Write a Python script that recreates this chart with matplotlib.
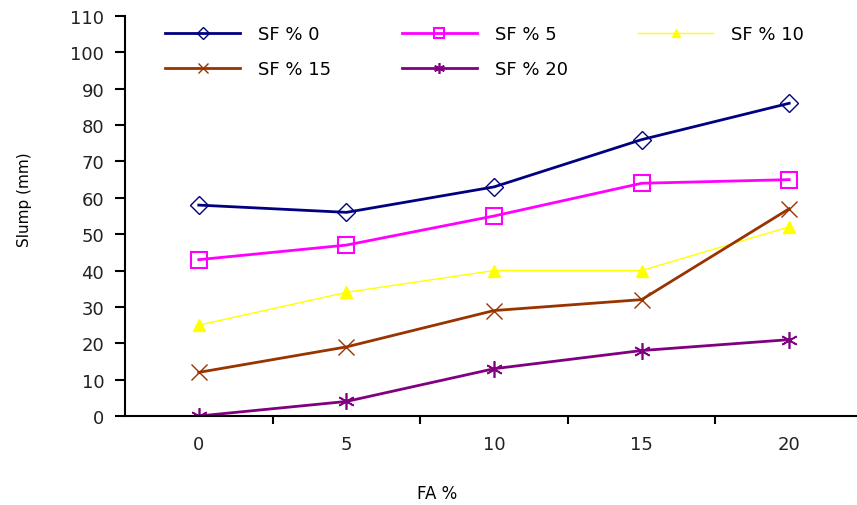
import matplotlib
matplotlib.use('Agg')
import matplotlib.pyplot as plt

plt.rcParams['font.family'] = ['DejaVu Sans']

fa = ['0', '5', '10', '15', '20']
sf0 = [58, 56, 63, 76, 86]
sf5 = [43, 47, 55, 64, 65]
sf10 = [25, 34, 40, 40, 52]
sf15 = [12, 19, 29, 32, 57]
sf20 = [0, 4, 13, 18, 21]

fig = plt.figure(figsize=(8.57, 5.06), dpi=100)
ax = fig.add_axes([125/857, 89/506, 738/857, 400/506])

xs = range(len(fa))
l0, = ax.plot(xs, sf0, color='#000080', lw=2, marker='D', ms=9, mfc='none', mew=1, label='SF % 0')
l5, = ax.plot(xs, sf5, color='#FF00FF', lw=2, marker='s', ms=11, mfc='none', mew=1.5, label='SF % 5')
l10, = ax.plot(xs, sf10, color='#FFFF00', lw=1, marker='^', ms=9, label='SF % 10')
l15, = ax.plot(xs, sf15, color='#993300', lw=2, marker='x', ms=12, mew=1, label='SF % 15')
l20, = ax.plot(xs, sf20, color='#800080', lw=2, marker=(6, 2, 0), ms=12, mew=1.2, label='SF % 20')

ax.set_xlim(-0.5, 4.5)
ax.set_ylim(0, 110)
ax.set_yticks(range(0, 111, 10))
ax.set_xticks(list(xs))
ax.set_xticklabels(fa)
ax.set_xticks([0.5, 1.5, 2.5, 3.5], minor=True)
ax.tick_params(axis='x', which='major', length=0, pad=14, labelsize=13, colors='#222222')
ax.tick_params(axis='x', which='minor', length=6, width=1.5, direction='out')
ax.tick_params(axis='y', length=7, width=1.5, labelsize=13, pad=8, labelcolor='#222222')
for s in ['top', 'right']:
    ax.spines[s].set_visible(False)
for s in ['left', 'bottom']:
    ax.spines[s].set_linewidth(1.5)

fig.text(25/857, 1 - 200/506, 'Slump (mm)', rotation=90, fontsize=11, ha='center', va='center')
fig.text(437/857, 1 - 494/506, 'FA %', fontsize=12, ha='center', va='center')

# row-wise order like the original
handles = [l0, l15, l5, l20, l10]
fig.legend(handles, [h.get_label() for h in handles], ncol=3, frameon=False,
           loc='upper left', bbox_to_anchor=(158/857, 1 - 19/506), borderaxespad=0,
           fontsize=13, handlelength=4.15, handletextpad=1.0, columnspacing=3.9,
           labelspacing=0.95, markerscale=0.65)

plt.savefig('out.png', dpi=100)
